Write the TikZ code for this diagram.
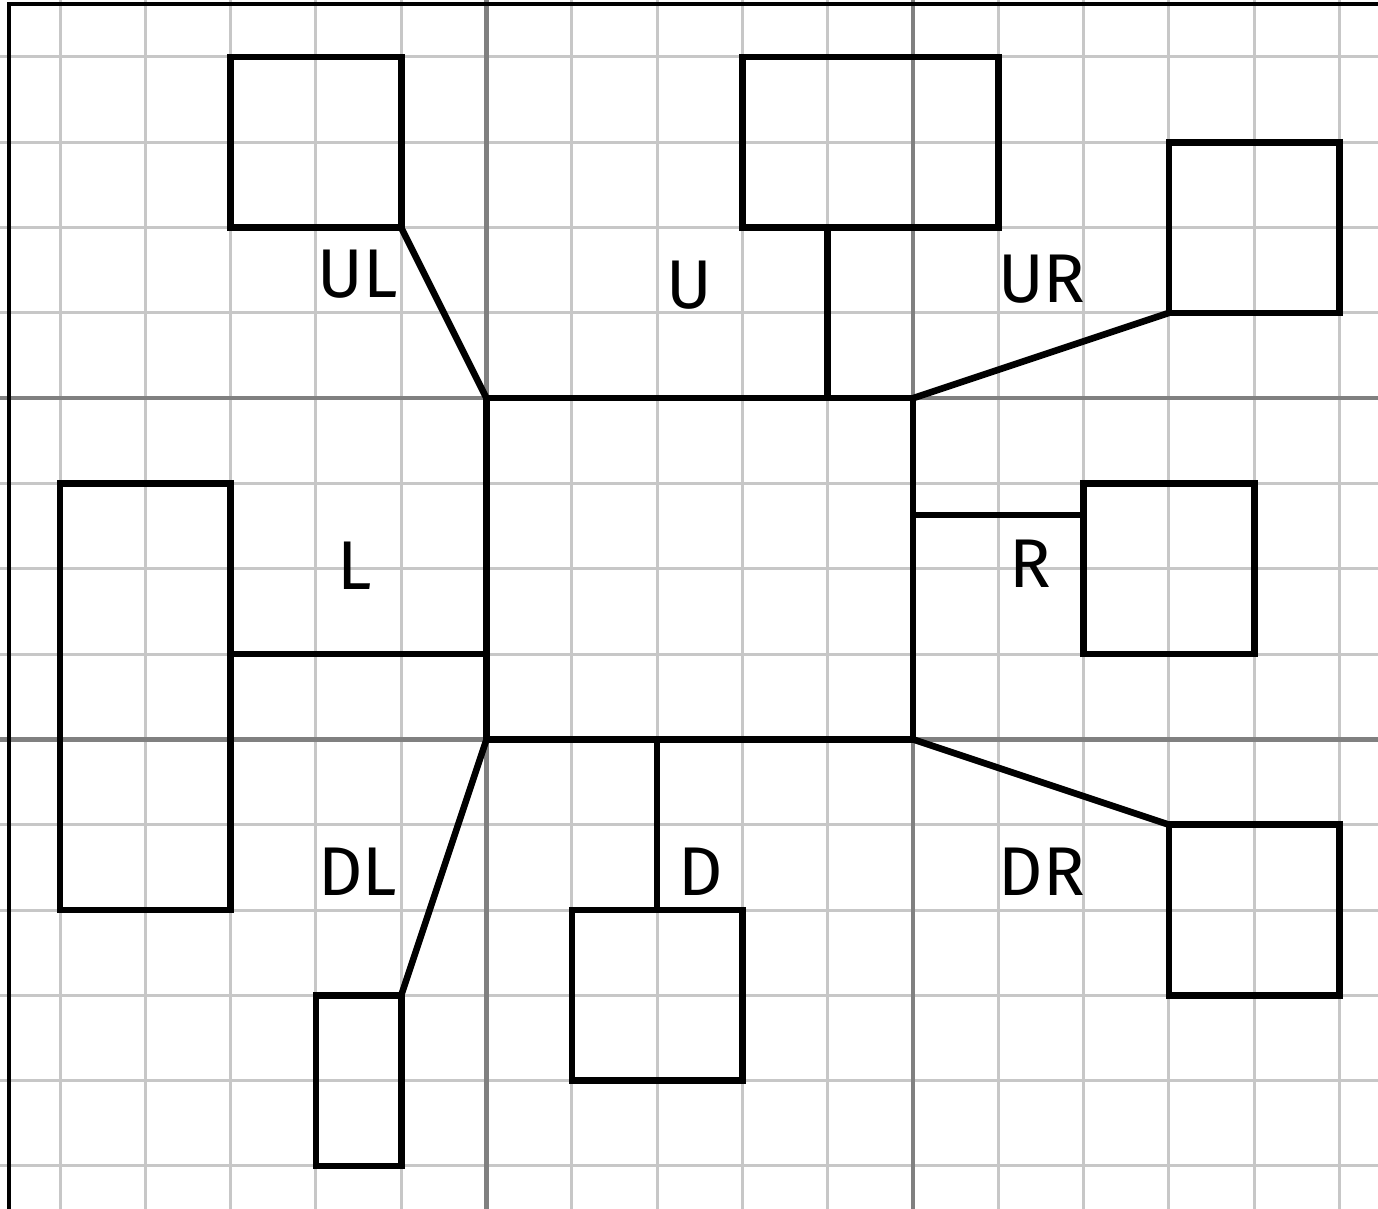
\documentclass[tikz,border=0pt]{standalone}
\usepackage{fontspec}
\setmainfont{Fira Sans}
\usetikzlibrary{calc}
\begin{document}
\begin{tikzpicture}[x=1cm,y=1cm,
  gridthin/.style={draw=black!22,line width=1pt},
  gridthick/.style={draw=black!50,line width=1.5pt},
  boxnode/.style={draw=black,line width=2.2pt,inner sep=0pt,outer sep=0pt,fill=none},
  link/.style={draw=black,line width=2.2pt},
  lbl/.style={font=\fontsize{23}{23}\selectfont,inner sep=0pt}]
\useasboundingbox (-0.7034,0.668) rectangle (15.451,-13.494);
\fill[white] (-0.7034,0.668) rectangle (15.451,-13.494);
% grid
\foreach \i in {0,...,15} {\draw[gridthin] (\i,0.7) -- (\i,-13.6);}
\foreach \j in {0,...,13} {\draw[gridthin] (-0.8,-\j) -- (15.6,-\j);}
\foreach \i in {5,10} {\draw[gridthick] (\i,0.7) -- (\i,-13.6);}
\foreach \j in {4,8} {\draw[gridthick] (-0.8,-\j) -- (15.6,-\j);}
% frame
\draw[black,line width=1.4pt] (-0.598,-13.6) -- (-0.598,0.621) -- (15.6,0.621);
% boxes
\node[boxnode,minimum width=5cm,minimum height=4cm] (c) at (7.5,-6) {};
\node[boxnode,minimum width=2cm,minimum height=2cm] (ul) at (3,-1) {};
\node[boxnode,minimum width=3cm,minimum height=2cm] (u) at (9.5,-1) {};
\node[boxnode,minimum width=2cm,minimum height=2cm] (ur) at (14,-2) {};
\node[boxnode,minimum width=2cm,minimum height=5cm] (l) at (1,-7.5) {};
\node[boxnode,minimum width=2cm,minimum height=2cm] (r) at (13,-6) {};
\node[boxnode,minimum width=2cm,minimum height=2cm] (dr) at (14,-10) {};
\node[boxnode,minimum width=2cm,minimum height=2cm] (d) at (7,-11) {};
\node[boxnode,minimum width=1cm,minimum height=2cm] (dl) at (3.5,-12) {};
% connector anchor points
\coordinate (uc) at (9,-2);
\coordinate (rc) at (10,-5.37);
\coordinate (lc) at (5,-7);
% connectors
\draw[link] (ul.south east) -- (c.north west);
\draw[link] (uc) -- (uc |- c.north);
\draw[link] (ur.south west) -- (c.north east);
\draw[link] (rc) -- (rc -| r.west);
\draw[link] (lc) -- (lc -| l.east);
\draw[link] (dr.north west) -- (c.south east);
\draw[link] (d.north) -- (d.north |- c.south);
\draw[link] (dl.north east) -- (c.south west);
% labels
\node[lbl] (tul) at (3.49,-2.55) {UL};
\node[lbl] (tu) at (7.38,-2.67) {U};
\node[lbl] (tur) at (11.51,-2.6) {UR};
\node[lbl] (tl) at (3.46,-5.97) {L};
\node[lbl] (tr) at (11.37,-5.94) {R};
\node[lbl] (tdl) at (3.49,-9.55) {DL};
\node[lbl] (td) at (7.51,-9.55) {D};
\node[lbl] (tdr) at (11.51,-9.55) {DR};
\end{tikzpicture}
\end{document}
